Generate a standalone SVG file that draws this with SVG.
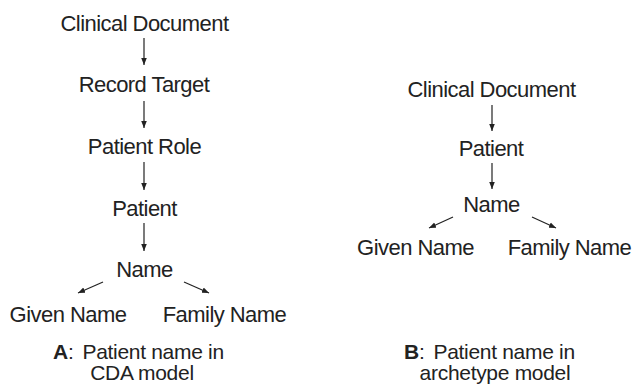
<svg xmlns="http://www.w3.org/2000/svg" width="633" height="385" viewBox="0 0 633 385">
<style>
text{font-family:"Liberation Sans",Arial,sans-serif;font-size:22px;fill:#222;text-anchor:middle;letter-spacing:-0.55px}
.cap{text-anchor:start}
.c{font-size:21px;letter-spacing:-0.3px}
.e{stroke:#222;stroke-width:1.2;fill:none;marker-end:url(#ah)}
</style>
<defs>
<marker id="ah" viewBox="0 0 10 10" refX="10" refY="5" markerWidth="7" markerHeight="7" markerUnits="userSpaceOnUse" orient="auto">
<path d="M0,1 L10,5 L0,9 Z" fill="#222"/>
</marker>
</defs>
<rect width="633" height="385" fill="#fff"/>
<g id="connectors">
<line class="e" x1="144" y1="38" x2="144" y2="65"/>
<line class="e" x1="144" y1="101" x2="144" y2="128"/>
<line class="e" x1="144" y1="162" x2="144" y2="190"/>
<line class="e" x1="144" y1="223" x2="144" y2="251"/>
<line class="e" x1="103" y1="282" x2="78" y2="293"/>
<line class="e" x1="184" y1="282" x2="209" y2="293"/>
<line class="e" x1="492" y1="105" x2="492" y2="131"/>
<line class="e" x1="492" y1="163" x2="492" y2="189"/>
<line class="e" x1="453" y1="217" x2="429" y2="228"/>
<line class="e" x1="532" y1="217" x2="556" y2="228"/>
</g>
<g id="a-clinical-document"><text x="144.5" y="31">Clinical Document</text></g>
<g id="a-record-target"><text x="144" y="92">Record Target</text></g>
<g id="a-patient-role"><text x="144.5" y="154">Patient Role</text></g>
<g id="a-patient"><text x="144.5" y="216">Patient</text></g>
<g id="a-name"><text x="144.5" y="277">Name</text></g>
<g id="a-given-name"><text x="68" y="322">Given Name</text></g>
<g id="a-family-name"><text x="224.5" y="322">Family Name</text></g>
<g id="caption-a">
<text class="cap c" x="53" y="359"><tspan font-weight="bold">A</tspan>:<tspan dx="9">Patient name in</tspan></text>
<text class="c" x="142" y="380">CDA model</text>
</g>
<g id="b-clinical-document"><text x="491.5" y="97">Clinical Document</text></g>
<g id="b-patient"><text x="491" y="156">Patient</text></g>
<g id="b-name"><text x="491.5" y="212">Name</text></g>
<g id="b-given-name"><text x="415.5" y="255">Given Name</text></g>
<g id="b-family-name"><text x="569.5" y="255">Family Name</text></g>
<g id="caption-b">
<text class="cap c" x="404" y="359"><tspan font-weight="bold">B</tspan>:<tspan dx="9">Patient name in</tspan></text>
<text class="c" x="495" y="380">archetype model</text>
</g>
</svg>
